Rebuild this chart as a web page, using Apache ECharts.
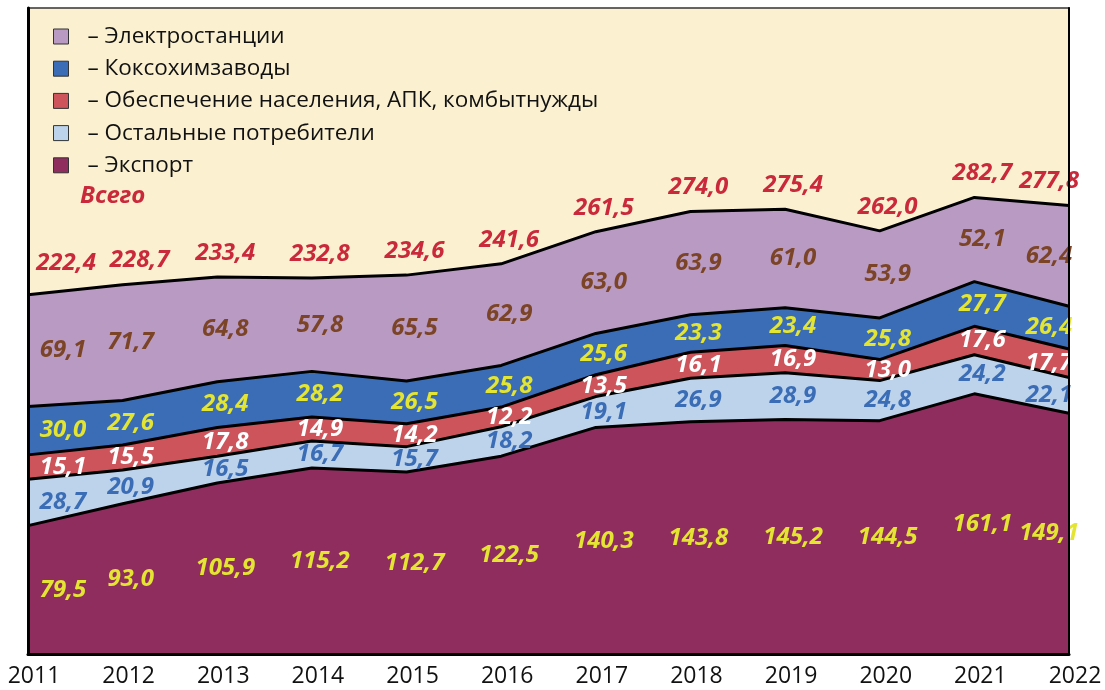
<!DOCTYPE html>
<html><head><meta charset="utf-8">
<script src="https://cdn.jsdelivr.net/npm/echarts@6/dist/echarts.min.js"></script>
<style>html,body{margin:0;padding:0;background:#fff}#c{width:1105px;height:690px}</style>
</head><body><div id="c"></div>
<script>
const years = ['2011','2012','2013','2014','2015','2016','2017','2018','2019','2020','2021','2022'];
const exportVals   = [79.5, 93.0, 105.9, 115.2, 112.7, 122.5, 140.3, 143.8, 145.2, 144.5, 161.1, 149.1];
const otherVals    = [28.7, 20.9, 16.5, 16.7, 15.7, 18.2, 19.1, 26.9, 28.9, 24.8, 24.2, 22.1];
const populVals    = [15.1, 15.5, 17.8, 14.9, 14.2, 12.2, 13.5, 16.1, 16.9, 13.0, 17.6, 17.7];
const cokeVals     = [30.0, 27.6, 28.4, 28.2, 26.5, 25.8, 25.6, 23.3, 23.4, 25.8, 27.7, 26.4];
const powerVals    = [69.1, 71.7, 64.8, 57.8, 65.5, 62.9, 63.0, 63.9, 61.0, 53.9, 52.1, 62.4];
const totalVals    = [222.4, 228.7, 233.4, 232.8, 234.6, 241.6, 261.5, 274.0, 275.4, 262.0, 282.7, 277.8];
const seriesNames  = ['Экспорт', 'Остальные потребители', 'Обеспечение населения, АПК, комбытнужды', 'Коксохимзаводы', 'Электростанции'];

const bands = [exportVals, otherVals, populVals, cokeVals, powerVals];
const fills = ['#8E2D5E', '#BDD3EC', '#CD545A', '#3A6DB5', '#B99AC3'];
const labelColors = ['#E4E532', '#3A6DB5', '#FFFFFF', '#E4E532', '#7B4426'];
const FONT = 'Open Sans';
const fmt = v => v.toFixed(1).replace('.', ',');

const areaSeries = bands.map((vals, k) => ({
  name: seriesNames[k], type: 'line', stack: 'all', data: vals,
  symbol: 'none', z: 10 - k,
  itemStyle: { color: fills[k] },
  lineStyle: { color: '#000', width: 3 },
  areaStyle: { color: fills[k], opacity: 1 }
}));

function edgeOffset(i, dy) {
  if (i === 0) return [35, dy];
  if (i === years.length - 1) return [-20, dy];
  return [8, dy];
}

const labelFont = { fontFamily: FONT, fontSize: 24, fontWeight: 'bold', fontStyle: 'italic' };

const labelSeries = bands.map((vals, k) => ({
  type: 'scatter', symbolSize: 0, z: 20, silent: true,
  itemStyle: { opacity: 1 },
  data: vals.map((v, i) => {
    let base = 0;
    for (let j = 0; j < k; j++) base += bands[j][i];
    return { value: [i, base + v / 2], raw: v, label: { offset: edgeOffset(i, 0) } };
  }),
  label: Object.assign({
    show: true, position: 'inside', color: labelColors[k], opacity: 1,
    formatter: p => fmt(p.data.raw)
  }, labelFont)
}));

const totalOffsets = totalVals.map((v, i) => i === 0 ? [38, -8] : (i === 1 ? [17, 0] : edgeOffset(i, 0)));
const totalSeries = {
  type: 'scatter', symbolSize: 0, z: 20, silent: true,
  itemStyle: { opacity: 1 },
  data: totalVals.map((v, i) => ({ value: [i, v], raw: v, label: { offset: totalOffsets[i] } })),
  label: Object.assign({
    show: true, position: 'top', distance: 12, color: '#C9293B', opacity: 1,
    formatter: p => fmt(p.data.raw)
  }, labelFont)
};

const chart = echarts.init(document.getElementById('c'));
chart.setOption({
  animation: false,
  backgroundColor: '#fff',
  grid: { left: 28, right: 36, top: 8, bottom: 36, show: true, backgroundColor: '#FBF0D0', borderColor: '#333', borderWidth: 1.5 },
  xAxis: {
    type: 'category', data: years, boundaryGap: false,
    axisLine: { show: true, lineStyle: { color: '#000', width: 3 } },
    axisTick: { show: false },
    axisLabel: { color: '#111', fontFamily: FONT, fontSize: 23, margin: 11, padding: [0, 0, 0, 12] },
    z: 30
  },
  yAxis: [{
    type: 'value', min: 0, max: 400,
    axisLine: { show: true, lineStyle: { color: '#000', width: 3 } },
    axisTick: { show: false }, axisLabel: { show: false }, splitLine: { show: false }, z: 30
  }, {
    type: 'value', min: 0, max: 400, position: 'right',
    axisLine: { show: true, lineStyle: { color: '#000', width: 2 } },
    axisTick: { show: false }, axisLabel: { show: false }, splitLine: { show: false }, z: 30
  }],
  legend: {
    data: ['Электростанции', 'Коксохимзаводы', 'Обеспечение населения, АПК, комбытнужды', 'Остальные потребители', 'Экспорт'],
    orient: 'vertical', left: 48, top: 20,
    itemWidth: 15, itemHeight: 15, itemGap: 9.2, icon: 'rect',
    itemStyle: { borderColor: '#333', borderWidth: 1 },
    formatter: n => '– ' + n,
    textStyle: { color: '#111', fontFamily: FONT, fontSize: 22.5, lineHeight: 23, padding: [0, 0, 0, 14] }
  },
  graphic: [{
    type: 'text', left: 80, top: 184, z: 50,
    style: { text: 'Всего', fill: '#C9293B', font: 'italic bold 24px "' + FONT + '"' }
  }],
  series: [...areaSeries, ...labelSeries, totalSeries]
});
</script></body></html>
